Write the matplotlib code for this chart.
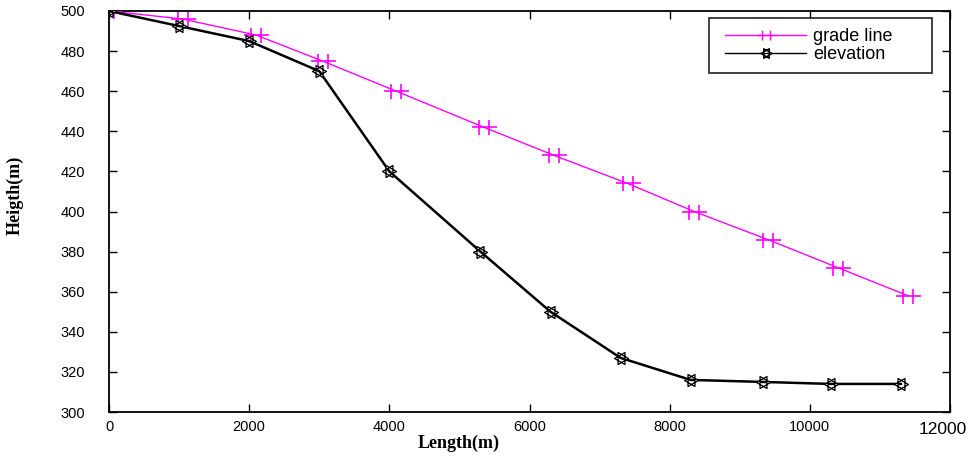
import matplotlib
matplotlib.use("Agg")
import matplotlib.pyplot as plt
import numpy as np
from matplotlib.path import Path
from matplotlib.lines import Line2D
from matplotlib.legend_handler import HandlerLine2D

# Data
grade_x = [0, 1050, 2100, 3050, 4100, 5350, 6350, 7400, 8350, 9400, 10400, 11400]
grade_y = [500, 496, 488, 475, 460, 442, 428, 414, 400, 386, 372, 358]
elev_x = [0, 1000, 2000, 3000, 4000, 5300, 6300, 7300, 8300, 9330, 10300, 11300]
elev_y = [500, 492.5, 485, 470, 420, 380, 350, 327, 316, 315, 314, 314]
x_ticks = [0, 2000, 4000, 6000, 8000, 10000]
y_ticks = list(range(300, 501, 20))

# Custom markers
dbl_plus = Path(
    [(-1.0, 0), (1.0, 0), (-0.4, -0.6), (-0.4, 0.6), (0.4, -0.6), (0.4, 0.6)],
    [Path.MOVETO, Path.LINETO, Path.MOVETO, Path.LINETO, Path.MOVETO, Path.LINETO],
)
s = 0.866
hexa = Path(
    [(1, 0), (-0.5, s), (-0.5, -s), (1, 0),
     (-1, 0), (0.5, s), (0.5, -s), (-1, 0)],
    [Path.MOVETO, Path.LINETO, Path.LINETO, Path.CLOSEPOLY,
     Path.MOVETO, Path.LINETO, Path.LINETO, Path.CLOSEPOLY],
)

plt.rcParams['font.family'] = ['Liberation Sans', 'DejaVu Sans']
W, H = 972, 459
fig = plt.figure(figsize=(W/100, H/100), dpi=100)
ax = fig.add_axes([109/W, 1-412/H, (950-109)/W, (412-11)/H])

magenta = '#FF00FF'
ax.plot(grade_x, grade_y, color=magenta, lw=1.0, marker=dbl_plus, ms=18,
        mec=magenta, mew=1.2, zorder=3)
ax.plot(elev_x, elev_y, color='black', lw=1.8, marker=hexa, ms=10,
        mfc='white', mec='black', mew=0.9, zorder=4)

ax.set_xlim(0, 12000)
ax.set_ylim(300, 500)
ax.set_xticks(x_ticks + [12000])
ax.set_xticklabels([str(v) for v in x_ticks] + [''])
ax.set_yticks(y_ticks)
ax.tick_params(direction='in', length=6, width=1, top=True, right=True,
               labelsize=10.5)
ax.tick_params(axis='y', pad=17)
ax.tick_params(axis='x', pad=6)
for sp in ax.spines.values():
    sp.set_linewidth(1.3)

fig.text(967/W, 1-422/H, '12000', ha='right', va='top', fontsize=12.5)

ax.set_xlabel('Length(m)', family='Liberation Serif', fontweight='bold', fontsize=13)
ax.xaxis.set_label_coords((459-109)/841, -(443-412)/401)
ax.xaxis.label.set_va('center')
ax.set_ylabel('Heigth(m)', family='Liberation Serif', fontweight='bold', fontsize=13)
ax.yaxis.set_label_coords((15-109)/841, (412-195)/401)
ax.yaxis.label.set_va('center')

handles = [
    Line2D([0], [0], color=magenta, lw=1.0, marker=dbl_plus, ms=13, mec=magenta),
    Line2D([0], [0], color='black', lw=1.0, marker=hexa, ms=8, mfc='white', mec='black'),
]
hmap = {h: HandlerLine2D(xpad=0.36) for h in handles}
leg = ax.legend(handles, ['grade line', 'elevation'], loc='upper left',
                bbox_to_anchor=((709-109)/841, 0, (932-709)/841, (412-18)/401),
                mode='expand', fontsize=13, frameon=True, fancybox=False,
                edgecolor='black', handlelength=4.83, borderpad=0.55, labelspacing=0.06,
                handletextpad=0.4, borderaxespad=0, numpoints=1, handler_map=hmap)
leg.get_frame().set_linewidth(1.3)

fig.savefig('out.png', dpi=100)
